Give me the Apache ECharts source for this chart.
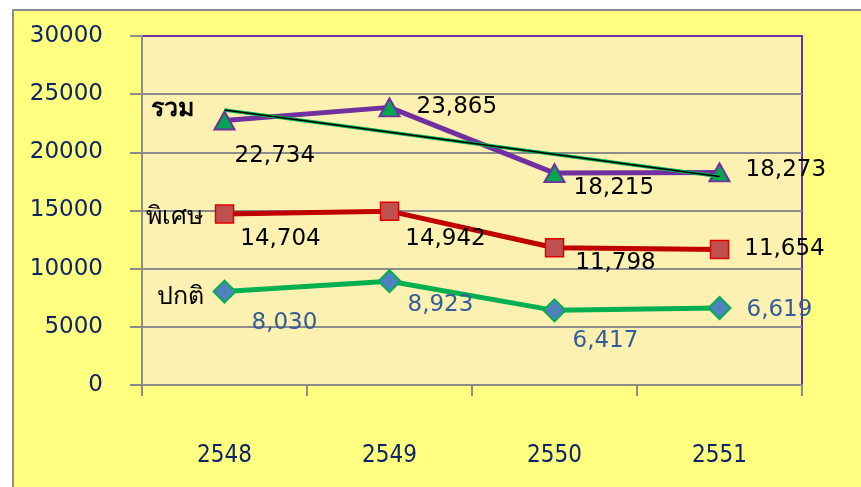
<!DOCTYPE html>
<html>
<head>
<meta charset="utf-8">
<script src="https://cdn.jsdelivr.net/npm/echarts@6/dist/echarts.min.js"></script>
<style>
  html, body { margin: 0; padding: 0; background: #fff; }
  #chart { width: 861px; height: 487px; }
</style>
</head>
<body>
<div id="chart"></div>
<script>
// data
var years = ['2548', '2549', '2550', '2551'];
var ruam = [22734, 23865, 18215, 18273];      // รวม
var phiset = [14704, 14942, 11798, 11654];    // พิเศษ
var pakati = [8030, 8923, 6417, 6619];        // ปกติ
var ruamTrend = [23630, null, null, 17920];   // trend line of รวม (ends)

// label offsets (styling only)
var ruamOff = [[-6, 36], [11, 0], [3, 15], [10, -2]];
var phisetOff = [[1, 25], [1, 28], [6, 15], [10, 0]];
var pakatiOff = [[10, 31], [1, 24], [1, 31], [10, 2]];

var chart = echarts.init(document.getElementById('chart'));

function items(vals, offs) {
  return vals.map(function (v, i) {
    return { value: v, label: { offset: offs[i] } };
  });
}

function nameMark(name, value, off, bold) {
  return {
    silent: true,
    data: [{
      coord: [0, value],
      symbol: 'rect',
      symbolSize: 20,
      itemStyle: { color: 'rgba(0,0,0,0)' },
      label: {
        show: true,
        position: 'left',
        distance: 5,
        offset: off,
        formatter: name,
        color: '#000',
        fontSize: 25,
        fontWeight: bold ? 'bold' : 'normal',
        fontFamily: 'DejaVu Sans, sans-serif'
      }
    }]
  };
}

var gray = '#8C8C8C';

var option = {
  animation: false,
  backgroundColor: '#ffffff',
  graphic: [{
    type: 'rect',
    z: -10,
    shape: { x: 13, y: 10, width: 900, height: 520 },
    style: { fill: '#FFFF80', stroke: gray, lineWidth: 2 }
  }],
  grid: {
    left: 142, right: 59, top: 36, bottom: 102,
    show: true,
    backgroundColor: '#FCF1B0',
    borderColor: '#7030A0',
    borderWidth: 2
  },
  xAxis: {
    type: 'category',
    data: years,
    boundaryGap: true,
    axisLine: { lineStyle: { color: gray, width: 2 } },
    axisTick: { show: true, length: 11, lineStyle: { color: gray, width: 2 } },
    axisLabel: {
      margin: 59,
      color: '#0F2466',
      fontSize: 24,
      fontFamily: 'DejaVu Sans Condensed, DejaVu Sans, sans-serif'
    }
  },
  yAxis: {
    type: 'value',
    min: 0,
    max: 30000,
    interval: 5000,
    axisLine: { show: true, lineStyle: { color: gray, width: 2 } },
    axisTick: { show: true, length: 12, lineStyle: { color: gray, width: 2 } },
    splitLine: { showMaxLine: false, lineStyle: { color: gray, width: 2 } },
    axisLabel: {
      margin: 39,
      color: '#0F2466',
      fontSize: 23,
      fontFamily: 'DejaVu Sans, sans-serif',
      formatter: function (v) { return String(v); }
    }
  },
  series: [
    {
      name: 'ปกติ',
      type: 'line',
      data: items(pakati, pakatiOff),
      symbol: 'diamond',
      symbolSize: [22, 22],
      lineStyle: { color: '#00B050', width: 5 },
      itemStyle: { color: '#4F81BD', borderColor: '#00B050', borderWidth: 2 },
      label: {
        show: true, position: 'right', distance: 5,
        color: '#355C9A', fontSize: 23, fontFamily: 'DejaVu Sans, sans-serif',
        formatter: function (p) { return p.value.toLocaleString('en-US'); }
      },
      markPoint: nameMark('ปกติ', pakati[0], [-6, 6], false),
      z: 3
    },
    {
      name: 'พิเศษ',
      type: 'line',
      data: items(phiset, phisetOff),
      symbol: 'rect',
      symbolSize: 18,
      lineStyle: { color: '#C00000', width: 5 },
      itemStyle: { color: '#C0504D', borderColor: '#E00000', borderWidth: 1.5 },
      label: {
        show: true, position: 'right', distance: 5,
        color: '#000', fontSize: 23, fontFamily: 'DejaVu Sans, sans-serif',
        formatter: function (p) { return p.value.toLocaleString('en-US'); }
      },
      markPoint: nameMark('พิเศษ', phiset[0], [-7, 4], false),
      z: 3
    },
    {
      name: 'รวม',
      type: 'line',
      data: items(ruam, ruamOff),
      symbol: 'triangle',
      symbolSize: [20, 18],
      lineStyle: { color: '#7030A0', width: 5 },
      itemStyle: { color: '#00A550', borderColor: '#7030A0', borderWidth: 2 },
      label: {
        show: true, position: 'right', distance: 5,
        color: '#000', fontSize: 23, fontFamily: 'DejaVu Sans, sans-serif',
        formatter: function (p) { return p.value.toLocaleString('en-US'); }
      },
      markPoint: nameMark('รวม', ruam[0], [-16, -11], true),
      z: 3
    },
    {
      name: 'trend-halo',
      type: 'line',
      data: ruamTrend,
      connectNulls: true,
      symbol: 'none',
      silent: true,
      lineStyle: { color: '#00B050', width: 3.5 },
      z: 4
    },
    {
      name: 'trend',
      type: 'line',
      data: ruamTrend,
      connectNulls: true,
      symbol: 'none',
      silent: true,
      lineStyle: { color: '#000000', width: 1.5 },
      z: 5
    }
  ]
};

chart.setOption(option);
window.addEventListener('resize', function () {
  chart.resize();
});
</script>
</body>
</html>
